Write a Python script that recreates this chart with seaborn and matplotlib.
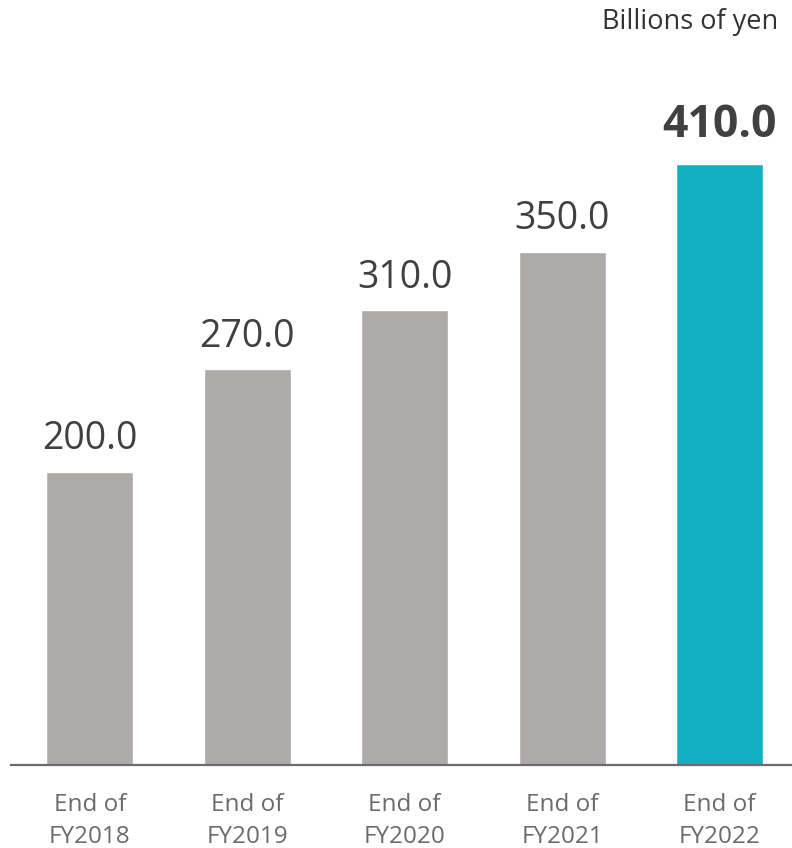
import matplotlib
matplotlib.use("Agg")
import matplotlib.pyplot as plt
import seaborn as sns
import pandas as pd

categories = ["End of\nFY2018", "End of\nFY2019", "End of\nFY2020", "End of\nFY2021", "End of\nFY2022"]
values = [200.0, 270.0, 310.0, 350.0, 410.0]
unit_label = "Billions of yen"

sns.set_style("white")
plt.rcParams['font.family'] = ['Open Sans', 'DejaVu Sans']

df = pd.DataFrame({"cat": categories, "val": values})
colors = ["#AEAAA9"] * 4 + ["#14AFC0"]

fig = plt.figure(figsize=(7.92, 8.48), dpi=100)
ax = fig.add_axes([11/792, 83/848, 781/792, 765/848])
sns.barplot(data=df, x="cat", y="val", hue="cat", palette=colors, legend=False,
            width=0.552, ax=ax, saturation=1)
ax.set_xlim(-0.5, 4.46)
ax.set_ylim(0, 521.6)
ax.set_xlabel("")
ax.set_ylabel("")
ax.set_yticks([])
for s in ["top", "right", "left"]:
    ax.spines[s].set_visible(False)
ax.spines["bottom"].set_color("#6B6B6B")
ax.spines["bottom"].set_linewidth(1.6)
ax.tick_params(axis="x", length=0, pad=20, labelsize=17.5, labelcolor="#6B6B6B")
for lbl in ax.get_xticklabels():
    lbl.set_linespacing(1.45)

for i, v in enumerate(values):
    last = i == len(values) - 1
    ax.text(i, v + (11 if last else 9), f"{v:.1f}", ha="center", va="bottom",
            fontsize=32 if last else 27, fontweight="bold" if last else "normal",
            color="#404040")

fig.text(778/792, 1 - 22/848, unit_label, ha="right", va="center", fontsize=19.5, color="#333333")

fig.savefig("out.png", dpi=100)
